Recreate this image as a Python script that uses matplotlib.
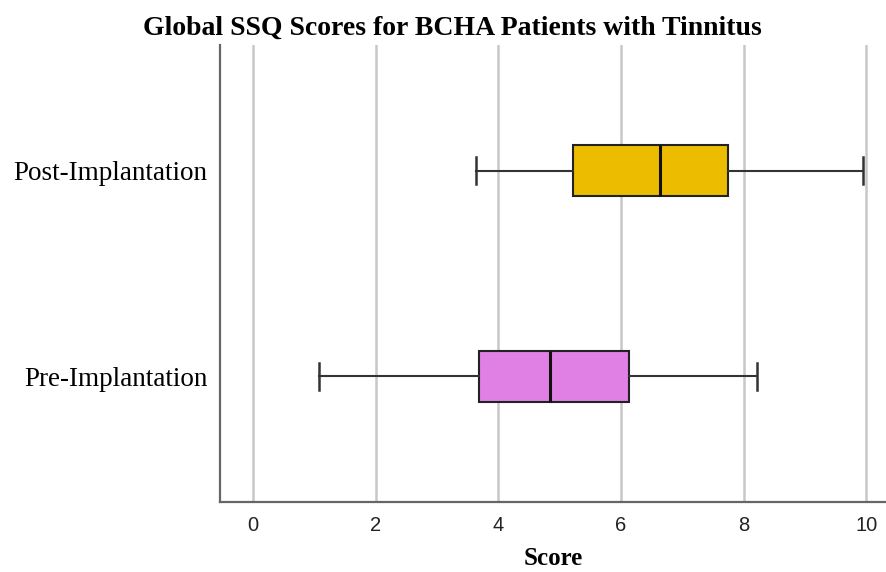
import matplotlib
matplotlib.use("Agg")
import matplotlib.pyplot as plt

categories = ["Pre-Implantation", "Post-Implantation"]
whisker_low = [1.07, 3.64]
q1 = [3.69, 5.22]
median = [4.85, 6.64]
q3 = [6.13, 7.75]
whisker_high = [8.22, 9.95]
colors = ["#E080E4", "#EBBC00"]
xticks = [0, 2, 4, 6, 8, 10]

fig = plt.figure(figsize=(8.87, 5.72), dpi=100)
ax = fig.add_axes([220/887, 1-502/572, (887-220)/887, (502-45)/572])

stats = []
for i, c in enumerate(categories):
    stats.append(dict(label=c, whislo=whisker_low[i], q1=q1[i], med=median[i],
                      q3=q3[i], whishi=whisker_high[i], fliers=[]))

bp = ax.bxp(stats, positions=[0, 1], vert=False, widths=0.25, patch_artist=True,
            showfliers=False,
            boxprops=dict(edgecolor="#222222", linewidth=1.5),
            medianprops=dict(color="#111111", linewidth=2.2),
            whiskerprops=dict(color="#333333", linewidth=1.5),
            capprops=dict(color="#333333", linewidth=1.8), capwidths=0.13)
for patch, col in zip(bp["boxes"], colors):
    patch.set_facecolor(col)

ax.set_xlim(-0.54, 10.34)
ax.set_ylim(-0.61, 1.61)
ax.set_xticks(xticks)
ax.set_xticklabels([str(t) for t in xticks], family="Liberation Sans", fontsize=14.5, color="#222222")
ax.set_yticks([0, 1])
ax.set_yticklabels(categories, family="Liberation Serif", fontsize=19.5)
ax.tick_params(axis="both", length=0)
ax.tick_params(axis="x", pad=10)
ax.tick_params(axis="y", pad=9)
for lbl in ax.get_yticklabels():
    lbl.set_y(lbl.get_position()[1])

ax.xaxis.grid(True, color="#c8c8c8", linewidth=1.8)
ax.set_axisbelow(True)
for s in ["top", "right"]:
    ax.spines[s].set_visible(False)
for s in ["left", "bottom"]:
    ax.spines[s].set_color("#666666")
    ax.spines[s].set_linewidth(1.6)

ax.set_xlabel("Score", family="Liberation Serif", fontweight="bold", fontsize=18, labelpad=9)
fig.text(452/887, 1-28/572, "Global SSQ Scores for BCHA Patients with Tinnitus",
         family="Liberation Serif", fontweight="bold", fontsize=20, ha="center", va="center")

fig.savefig("out.png", dpi=100)
